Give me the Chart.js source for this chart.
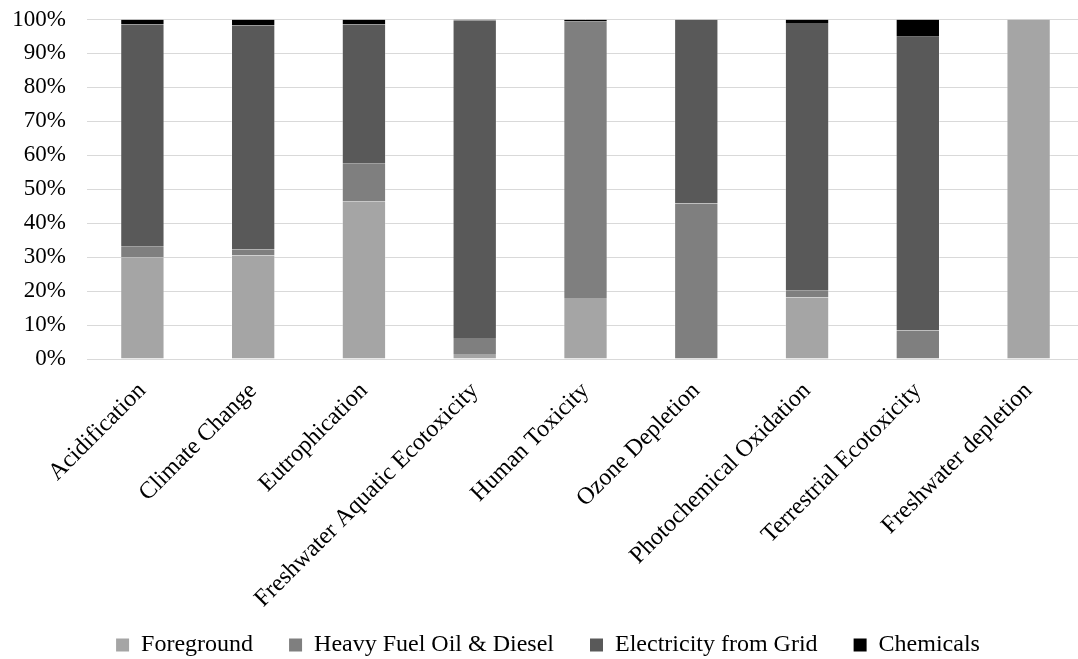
<!DOCTYPE html>
<html>
<head>
<meta charset="utf-8">
<script src="https://cdn.jsdelivr.net/npm/chart.js@4/dist/chart.umd.min.js"></script>
<style>
  html, body { margin: 0; padding: 0; background: #fff; overflow: hidden; }
  #clip { width: 1078px; height: 659px; overflow: hidden; position: relative; }
  #wrap { width: 1108px; height: 667px; position: absolute; left: 0; top: 0; }
</style>
</head>
<body>
<div id="clip"><div id="wrap"><canvas id="chart"></canvas></div></div>
<script>
// ── Data (% share of each impact) ──────────────────────────────
const categories = [
  'Acidification', 'Climate Change', 'Eutrophication',
  'Freshwater Aquatic Ecotoxicity', 'Human Toxicity', 'Ozone Depletion',
  'Photochemical Oxidation', 'Terrestrial Ecotoxicity', 'Freshwater depletion'
];
const foreground  = [30.0, 30.5, 46.5, 1.5, 18.0, 0,    18.1, 0,    100];
const heavyFuel   = [3.1,  1.8,  11.0, 4.7, 81.3, 45.8, 2.0,  8.4,  0];
const electricity = [65.5, 66.0, 41.1, 93.6, 0.2, 54.2, 78.9, 86.5, 0];
const chemicals   = [1.4,  1.7,  1.4,  0.2, 0.5,  0,    1.0,  5.1,  0];
const yTicks = [0, 10, 20, 30, 40, 50, 60, 70, 80, 90, 100];

const FONT = "'Liberation Serif', 'Times New Roman', serif";

const series = [
  { label: 'Foreground',               data: foreground,  color: '#a5a5a5' },
  { label: 'Heavy Fuel Oil & Diesel',  data: heavyFuel,   color: '#7f7f7f' },
  { label: 'Electricity from Grid',    data: electricity, color: '#595959' },
  { label: 'Chemicals',                data: chemicals,   color: '#000000' },
];

const defaultLabels = Chart.defaults.plugins.legend.labels.generateLabels;

new Chart(document.getElementById('chart'), {
  type: 'bar',
  data: {
    labels: categories,
    datasets: series.map(s => ({
      label: s.label,
      data: s.data,
      backgroundColor: s.color,
      // faint light edge on the bar sides, like the source
      borderColor: 'rgba(255,255,255,0.3)',
      borderWidth: { left: 1, right: 1, top: 0, bottom: 0 },
      borderSkipped: false,
      barPercentage: 0.4,
      categoryPercentage: 1,
    })),
  },
  options: {
    responsive: true,
    maintainAspectRatio: false,
    animation: false,
    layout: { padding: { top: 19.5, right: 24, left: 12, bottom: 0 } },
    plugins: {
      tooltip: { enabled: false },
      legend: {
        position: 'bottom',
        labels: {
          color: '#000',
          font: { family: FONT, size: 24 },
          boxWidth: 13,
          boxHeight: 13,
          padding: 12,
          useBorderRadius: false,
          // wider gap between items than between rows
          generateLabels: chart => defaultLabels(chart).map((l, i, all) => ({
            ...l,
            lineWidth: 0,
            text: i < all.length - 1 ? l.text + '\u2003' : l.text,
          })),
        },
      },
    },
    scales: {
      x: {
        stacked: true,
        grid: { display: false, drawTicks: false },
        border: { color: '#d9d9d9', width: 1 },
        afterFit: s => { s.height = 262; s.paddingLeft = 0; s.paddingRight = 0; },
        ticks: {
          color: '#000',
          font: { family: FONT, size: 24 },
          minRotation: 45,
          maxRotation: 45,
          padding: 18,
          autoSkip: false,
        },
      },
      y: {
        stacked: true,
        min: 0,
        max: 100,
        afterBuildTicks: axis => { axis.ticks = yTicks.map(v => ({ value: v })); },
        afterFit: s => { s.width = 75; s.paddingTop = 0; s.paddingBottom = 0; },
        grid: { color: '#d9d9d9', drawTicks: false },
        border: { display: false },
        ticks: {
          color: '#000',
          font: { family: FONT, size: 23 },
          padding: 21,
          callback: v => v + '%',
        },
      },
    },
  },
});
</script>
</body>
</html>
